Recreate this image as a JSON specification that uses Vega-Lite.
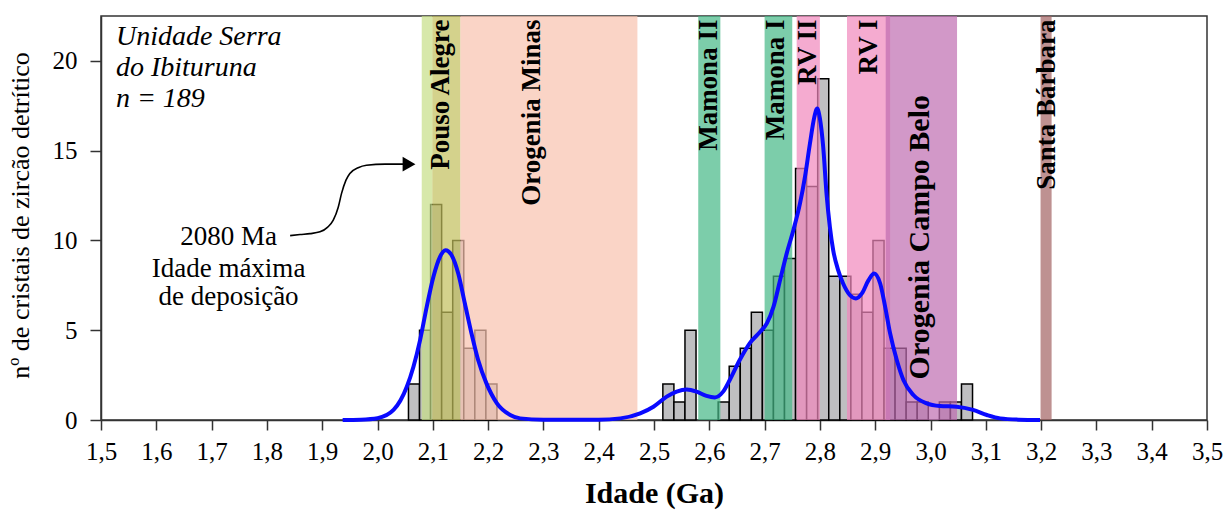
{
  "$schema": "https://vega.github.io/schema/vega-lite/v6.json",
  "width": 1106,
  "height": 404,
  "autosize": {"type": "none"},
  "padding": {"left": 101, "top": 16, "right": 18, "bottom": 91},
  "background": "white",
  "config": {
    "view": {"stroke": "#333333", "strokeWidth": 1.5},
    "font": "Liberation Serif",
    "axis": {
      "grid": false,
      "domainColor": "#333333",
      "domainWidth": 1.5,
      "tickColor": "#333333",
      "tickWidth": 1.5,
      "labelFont": "Liberation Serif",
      "labelFontSize": 25,
      "labelColor": "black",
      "titleFont": "Liberation Serif",
      "titleColor": "black"
    }
  },
  "datasets": {
    "bars": [
      {"bin_start": 2.056, "bin_end": 2.076, "count": 2},
      {"bin_start": 2.076, "bin_end": 2.096, "count": 5},
      {"bin_start": 2.096, "bin_end": 2.116, "count": 12},
      {"bin_start": 2.116, "bin_end": 2.136, "count": 6},
      {"bin_start": 2.136, "bin_end": 2.156, "count": 10},
      {"bin_start": 2.156, "bin_end": 2.176, "count": 4},
      {"bin_start": 2.176, "bin_end": 2.196, "count": 5},
      {"bin_start": 2.196, "bin_end": 2.216, "count": 2},
      {"bin_start": 2.516, "bin_end": 2.536, "count": 2},
      {"bin_start": 2.536, "bin_end": 2.556, "count": 1},
      {"bin_start": 2.556, "bin_end": 2.576, "count": 5},
      {"bin_start": 2.616, "bin_end": 2.636, "count": 1},
      {"bin_start": 2.636, "bin_end": 2.656, "count": 3},
      {"bin_start": 2.656, "bin_end": 2.676, "count": 4},
      {"bin_start": 2.676, "bin_end": 2.696, "count": 6},
      {"bin_start": 2.696, "bin_end": 2.716, "count": 5},
      {"bin_start": 2.716, "bin_end": 2.736, "count": 8},
      {"bin_start": 2.736, "bin_end": 2.756, "count": 9},
      {"bin_start": 2.756, "bin_end": 2.776, "count": 14},
      {"bin_start": 2.776, "bin_end": 2.796, "count": 13},
      {"bin_start": 2.796, "bin_end": 2.816, "count": 19},
      {"bin_start": 2.816, "bin_end": 2.836, "count": 8},
      {"bin_start": 2.836, "bin_end": 2.856, "count": 8},
      {"bin_start": 2.856, "bin_end": 2.876, "count": 7},
      {"bin_start": 2.876, "bin_end": 2.896, "count": 6},
      {"bin_start": 2.896, "bin_end": 2.916, "count": 10},
      {"bin_start": 2.916, "bin_end": 2.936, "count": 4},
      {"bin_start": 2.936, "bin_end": 2.956, "count": 4},
      {"bin_start": 2.956, "bin_end": 2.976, "count": 1},
      {"bin_start": 2.976, "bin_end": 2.996, "count": 1},
      {"bin_start": 3.016, "bin_end": 3.036, "count": 1},
      {"bin_start": 3.036, "bin_end": 3.056, "count": 1},
      {"bin_start": 3.056, "bin_end": 3.076, "count": 2}
    ],
    "bands": [
      {"band": "Pouso Alegre (a)", "start": 2.08, "end": 2.099},
      {"band": "Pouso Alegre (b)", "start": 2.099, "end": 2.15},
      {"band": "Orogenia Minas", "start": 2.15, "end": 2.47},
      {"band": "Mamona II", "start": 2.58, "end": 2.62},
      {"band": "Mamona I", "start": 2.70, "end": 2.75},
      {"band": "RV II", "start": 2.758, "end": 2.80},
      {"band": "RV I", "start": 2.849, "end": 2.927},
      {"band": "Orogenia Campo Belo", "start": 2.919, "end": 3.048},
      {"band": "Santa Bárbara", "start": 3.199, "end": 3.219}
    ],
    "bandLabels": [
      {"label": "Pouso Alegre", "age": 2.115, "top": 22.3},
      {"label": "Orogenia Minas", "age": 2.28, "top": 22.3},
      {"label": "Mamona II", "age": 2.600, "top": 22.3},
      {"label": "Mamona I", "age": 2.721, "top": 22.3},
      {"label": "RV II", "age": 2.779, "top": 22.3},
      {"label": "RV I", "age": 2.889, "top": 22.3},
      {"label": "Santa Bárbara", "age": 3.210, "top": 22.3}
    ],
    "bandLabelsLarge": [
      {"label": "Orogenia Campo Belo", "age": 2.981, "top": 18.1}
    ],
    "curve": [
      {"age": 1.937, "density": 0},
      {"age": 1.97, "density": 0.02},
      {"age": 2.0, "density": 0.1},
      {"age": 2.029, "density": 0.56},
      {"age": 2.053, "density": 1.85},
      {"age": 2.065, "density": 2.97},
      {"age": 2.077, "density": 4.45},
      {"age": 2.089, "density": 6.3},
      {"age": 2.101, "density": 7.97},
      {"age": 2.113, "density": 9.09},
      {"age": 2.123, "density": 9.46},
      {"age": 2.134, "density": 9.18},
      {"age": 2.146, "density": 8.16},
      {"age": 2.158, "density": 6.49},
      {"age": 2.170, "density": 4.82},
      {"age": 2.182, "density": 3.34},
      {"age": 2.197, "density": 2.04},
      {"age": 2.216, "density": 0.93},
      {"age": 2.240, "density": 0.28},
      {"age": 2.258, "density": 0.09},
      {"age": 2.30, "density": 0.02},
      {"age": 2.40, "density": 0.02},
      {"age": 2.439, "density": 0.09},
      {"age": 2.475, "density": 0.37},
      {"age": 2.499, "density": 0.74},
      {"age": 2.523, "density": 1.3},
      {"age": 2.541, "density": 1.58},
      {"age": 2.559, "density": 1.7},
      {"age": 2.577, "density": 1.58},
      {"age": 2.595, "density": 1.34},
      {"age": 2.610, "density": 1.26},
      {"age": 2.625, "density": 1.58},
      {"age": 2.637, "density": 2.23},
      {"age": 2.655, "density": 3.34},
      {"age": 2.673, "density": 4.27},
      {"age": 2.692, "density": 4.91},
      {"age": 2.704, "density": 5.38},
      {"age": 2.716, "density": 6.3},
      {"age": 2.728, "density": 7.79},
      {"age": 2.740, "density": 9.28},
      {"age": 2.752, "density": 10.57},
      {"age": 2.764, "density": 12.06},
      {"age": 2.773, "density": 13.54},
      {"age": 2.782, "density": 15.4},
      {"age": 2.790, "density": 16.88},
      {"age": 2.795, "density": 17.35},
      {"age": 2.800, "density": 16.8},
      {"age": 2.806, "density": 15.2},
      {"age": 2.812, "density": 12.6},
      {"age": 2.818, "density": 10.76},
      {"age": 2.824, "density": 9.46},
      {"age": 2.833, "density": 8.35},
      {"age": 2.842, "density": 7.6},
      {"age": 2.854, "density": 6.96},
      {"age": 2.865, "density": 6.77},
      {"age": 2.876, "density": 7.05},
      {"age": 2.888, "density": 7.79},
      {"age": 2.898, "density": 8.16},
      {"age": 2.909, "density": 7.6},
      {"age": 2.918, "density": 6.3},
      {"age": 2.927, "density": 4.82},
      {"age": 2.939, "density": 3.34},
      {"age": 2.951, "density": 2.23},
      {"age": 2.969, "density": 1.39},
      {"age": 2.993, "density": 0.93},
      {"age": 3.017, "density": 0.78},
      {"age": 3.047, "density": 0.74},
      {"age": 3.077, "density": 0.56},
      {"age": 3.102, "density": 0.28},
      {"age": 3.126, "density": 0.09},
      {"age": 3.16, "density": 0.02},
      {"age": 3.198, "density": 0}
    ],
    "arrow": [
      {"ax": 1.842, "ay": 10.27},
      {"ax": 1.860, "ay": 10.33},
      {"ax": 1.878, "ay": 10.38},
      {"ax": 1.896, "ay": 10.48},
      {"ax": 1.910, "ay": 10.74},
      {"ax": 1.920, "ay": 11.13},
      {"ax": 1.929, "ay": 11.85},
      {"ax": 1.935, "ay": 12.62},
      {"ax": 1.943, "ay": 13.36},
      {"ax": 1.950, "ay": 13.73},
      {"ax": 1.965, "ay": 14.05},
      {"ax": 1.980, "ay": 14.19},
      {"ax": 2.014, "ay": 14.25},
      {"ax": 2.050, "ay": 14.25}
    ],
    "arrowHead": [{"ax": 2.057, "ay": 14.25}],
    "sampleText": [
      {"t": "Unidade Serra", "age": 1.527, "v": 20.87},
      {"t": "do Ibituruna", "age": 1.527, "v": 19.14},
      {"t": "n = 189", "age": 1.527, "v": 17.42}
    ],
    "mdaText": [
      {"t": "2080 Ma", "age": 1.7306, "v": 9.74},
      {"t": "Idade máxima", "age": 1.7306, "v": 7.96},
      {"t": "de deposição", "age": 1.7306, "v": 6.40}
    ]
  },
  "layer": [
    {
      "data": {"name": "bars"},
      "mark": {"type": "rect", "fill": "#bfbfc1", "stroke": "black", "strokeWidth": 1.5},
      "encoding": {
        "x": {
          "field": "bin_start", "type": "quantitative",
          "scale": {"domain": [1.5, 3.5], "nice": false, "zero": false},
          "axis": {
            "values": [1.5, 1.6, 1.7, 1.8, 1.9, 2.0, 2.1, 2.2, 2.3, 2.4, 2.5, 2.6, 2.7, 2.8, 2.9, 3.0, 3.1, 3.2, 3.3, 3.4, 3.5],
            "labelExpr": "replace(format(datum.value, '.1f'), '.', ',')",
            "tickSize": 10,
            "labelPadding": 9,
            "labelFlush": false,
            "labelOverlap": false,
            "title": "Idade (Ga)",
            "titleFontSize": 30,
            "titleFontWeight": "bold",
            "titleY": 58,
            "titleBaseline": "top"
          }
        },
        "x2": {"field": "bin_end"},
        "y": {
          "field": "count", "type": "quantitative",
          "scale": {"domain": [0, 22.5], "nice": false},
          "axis": {
            "values": [0, 5, 10, 15, 20],
            "tickSize": 11,
            "labelPadding": 13,
            "labelFlush": false,
            "title": "nº de cristais de zircão detrítico",
            "titleFontSize": 26,
            "titleFontWeight": "normal",
            "titleX": -68,
            "titleY": 199
          }
        },
        "y2": {"datum": 0}
      }
    },
    {
      "data": {"name": "bands"},
      "mark": {"type": "rect", "opacity": 0.7},
      "encoding": {
        "x": {"field": "start", "type": "quantitative"},
        "x2": {"field": "end"},
        "y": {"datum": 0},
        "y2": {"datum": 22.5},
        "color": {
          "field": "band", "type": "nominal", "legend": null,
          "scale": {
            "domain": ["Pouso Alegre (a)", "Pouso Alegre (b)", "Orogenia Minas", "Mamona II", "Mamona I", "RV II", "RV I", "Orogenia Campo Belo", "Santa Bárbara"],
            "range": ["#c6de86", "#c2bf5b", "#f8c2ae", "#45b886", "#45b886", "#f188bc", "#f188bc", "#bf6cb0", "#a26262"]
          }
        }
      }
    },
    {
      "mark": {"type": "rule", "color": "#ff1010", "strokeWidth": 2.5, "strokeDash": [9, 6]},
      "encoding": {"x": {"datum": 2.08}, "y": {"datum": 0}, "y2": {"datum": 22.5}}
    },
    {
      "data": {"name": "curve"},
      "mark": {"type": "line", "color": "#0a0aff", "strokeWidth": 4, "interpolate": "monotone"},
      "encoding": {
        "x": {"field": "age", "type": "quantitative"},
        "y": {"field": "density", "type": "quantitative"}
      }
    },
    {
      "data": {"name": "arrow"},
      "mark": {"type": "line", "color": "black", "strokeWidth": 1.6, "interpolate": "monotone"},
      "encoding": {
        "x": {"field": "ax", "type": "quantitative"},
        "y": {"field": "ay", "type": "quantitative"}
      }
    },
    {
      "data": {"name": "arrowHead"},
      "mark": {"type": "point", "shape": "triangle-right", "filled": true, "color": "black", "size": 220, "opacity": 1},
      "encoding": {
        "x": {"field": "ax", "type": "quantitative"},
        "y": {"field": "ay", "type": "quantitative"}
      }
    },
    {
      "data": {"name": "bandLabels"},
      "mark": {"type": "text", "angle": 270, "align": "right", "baseline": "middle", "font": "Liberation Serif", "fontSize": 27, "fontWeight": "bold", "color": "black"},
      "encoding": {
        "x": {"field": "age", "type": "quantitative"},
        "y": {"field": "top", "type": "quantitative"},
        "text": {"field": "label"}
      }
    },
    {
      "data": {"name": "bandLabelsLarge"},
      "mark": {"type": "text", "angle": 270, "align": "right", "baseline": "middle", "font": "Liberation Serif", "fontSize": 30, "fontWeight": "bold", "color": "black"},
      "encoding": {
        "x": {"field": "age", "type": "quantitative"},
        "y": {"field": "top", "type": "quantitative"},
        "text": {"field": "label"}
      }
    },
    {
      "data": {"name": "sampleText"},
      "mark": {"type": "text", "align": "left", "baseline": "alphabetic", "font": "Liberation Serif", "fontSize": 28, "fontStyle": "italic", "color": "black"},
      "encoding": {
        "x": {"field": "age", "type": "quantitative"},
        "y": {"field": "v", "type": "quantitative"},
        "text": {"field": "t"}
      }
    },
    {
      "data": {"name": "mdaText"},
      "mark": {"type": "text", "align": "center", "baseline": "alphabetic", "font": "Liberation Serif", "fontSize": 27, "color": "black"},
      "encoding": {
        "x": {"field": "age", "type": "quantitative"},
        "y": {"field": "v", "type": "quantitative"},
        "text": {"field": "t"}
      }
    }
  ]
}
